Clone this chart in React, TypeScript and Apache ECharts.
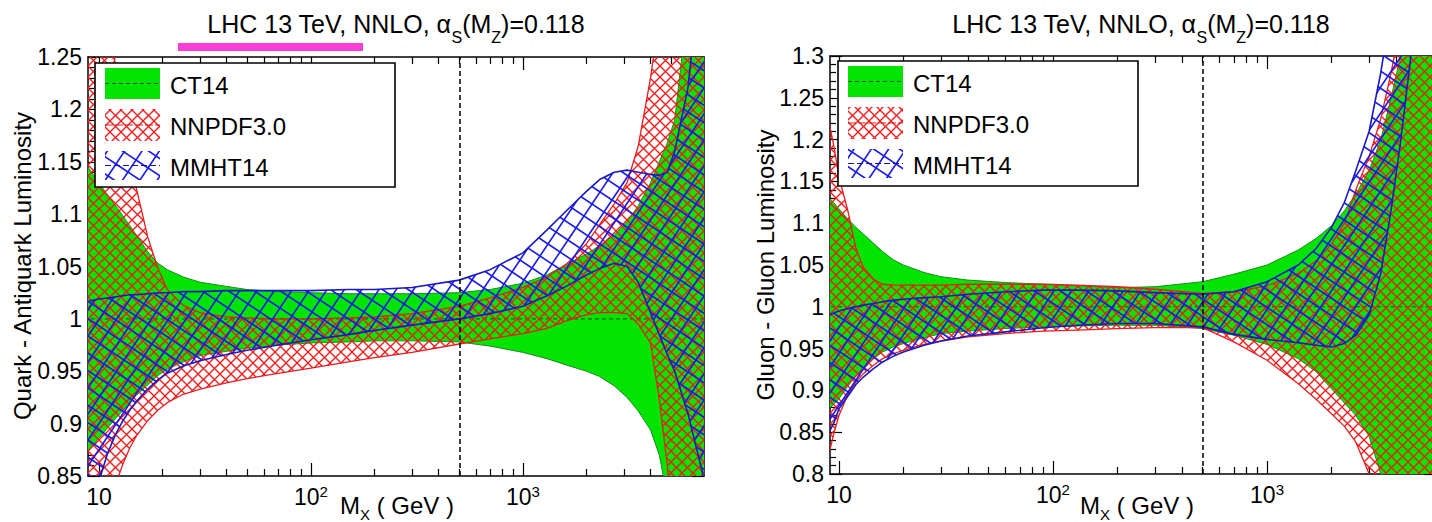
import React, { useEffect, useRef } from 'react';
import * as echarts from 'echarts';

// ---------------- data (luminosity ratio) ----------------
// Left panel: quark - antiquark luminosity
const qqMass = [8.5, 9, 10, 11, 12, 13, 14, 15, 17, 19, 21, 25, 30, 40, 50, 70, 100, 150, 200, 300, 500, 700, 1000, 1300, 1600, 2000, 2300, 2700, 3100, 3500, 4000, 4400, 4800, 5200, 6000, 7500];
const qqCT14Up = [1.150, 1.143, 1.130, 1.118, 1.108, 1.098, 1.089, 1.080, 1.064, 1.053, 1.047, 1.040, 1.035, 1.031, 1.028, 1.026, 1.025, 1.024, 1.024, 1.024, 1.025, 1.028, 1.034, 1.042, 1.052, 1.062, 1.070, 1.080, 1.093, 1.108, 1.130, 1.150, 1.168, 1.190, 1.300, 1.500];
const qqCT14Lo = [0.865, 0.875, 0.886, 0.896, 0.905, 0.913, 0.920, 0.927, 0.937, 0.946, 0.952, 0.959, 0.965, 0.969, 0.972, 0.975, 0.977, 0.978, 0.979, 0.979, 0.978, 0.974, 0.968, 0.962, 0.956, 0.950, 0.945, 0.936, 0.925, 0.912, 0.894, 0.870, 0.830, 0.760, 0.600, 0.400];
const qqNNPDFUp = [1.50, 1.45, 1.37, 1.30, 1.24, 1.19, 1.155, 1.125, 1.078, 1.048, 1.028, 1.013, 1.006, 1.002, 1.001, 1.000, 1.000, 1.001, 1.002, 1.005, 1.012, 1.020, 1.030, 1.040, 1.052, 1.072, 1.090, 1.110, 1.130, 1.165, 1.230, 1.290, 1.350, 1.420, 1.550, 1.800];
const qqNNPDFLo = [0.74, 0.76, 0.79, 0.815, 0.842, 0.862, 0.877, 0.888, 0.903, 0.913, 0.920, 0.928, 0.933, 0.939, 0.943, 0.948, 0.953, 0.959, 0.963, 0.968, 0.976, 0.981, 0.986, 0.991, 0.998, 1.004, 1.006, 1.006, 1.005, 0.995, 0.977, 0.923, 0.860, 0.780, 0.650, 0.450];
const qqMMHTUp = [1.016, 1.017, 1.019, 1.020, 1.021, 1.022, 1.023, 1.023, 1.024, 1.025, 1.025, 1.026, 1.026, 1.027, 1.027, 1.027, 1.027, 1.028, 1.028, 1.030, 1.037, 1.047, 1.063, 1.085, 1.103, 1.122, 1.133, 1.140, 1.142, 1.140, 1.138, 1.137, 1.140, 1.160, 1.220, 1.400];
const qqMMHTLo = [0.800, 0.815, 0.845, 0.872, 0.890, 0.903, 0.913, 0.921, 0.933, 0.942, 0.948, 0.955, 0.960, 0.966, 0.970, 0.975, 0.980, 0.985, 0.989, 0.994, 1.000, 1.005, 1.012, 1.022, 1.031, 1.042, 1.048, 1.053, 1.050, 1.035, 1.006, 0.985, 0.966, 0.950, 0.910, 0.830];

// Right panel: gluon - gluon luminosity
const ggMass = [8.5, 9, 9.5, 10, 11, 12, 13, 14.5, 16, 18, 20, 25, 30, 40, 60, 90, 130, 200, 300, 500, 700, 1000, 1400, 1700, 2000, 2300, 2600, 3000, 3400, 3800, 4200, 4700, 5500, 7000];
const ggCT14Up = [1.140, 1.130, 1.124, 1.117, 1.105, 1.095, 1.087, 1.076, 1.066, 1.056, 1.050, 1.041, 1.036, 1.032, 1.029, 1.027, 1.025, 1.023, 1.024, 1.030, 1.039, 1.050, 1.068, 1.082, 1.097, 1.115, 1.135, 1.163, 1.200, 1.250, 1.300, 1.380, 1.500, 1.700];
const ggCT14Lo = [0.870, 0.878, 0.884, 0.890, 0.905, 0.918, 0.928, 0.938, 0.946, 0.952, 0.956, 0.963, 0.968, 0.971, 0.974, 0.976, 0.977, 0.978, 0.978, 0.974, 0.966, 0.955, 0.938, 0.922, 0.902, 0.885, 0.870, 0.845, 0.800, 0.730, 0.650, 0.550, 0.400, 0.200];
const ggNNPDFUp = [1.260, 1.220, 1.190, 1.155, 1.115, 1.070, 1.047, 1.033, 1.027, 1.026, 1.026, 1.026, 1.026, 1.027, 1.027, 1.027, 1.026, 1.024, 1.021, 1.016, 1.018, 1.025, 1.040, 1.055, 1.075, 1.100, 1.140, 1.180, 1.225, 1.280, 1.340, 1.420, 1.550, 1.750];
const ggNNPDFLo = [0.800, 0.825, 0.850, 0.870, 0.895, 0.910, 0.920, 0.930, 0.938, 0.944, 0.948, 0.955, 0.959, 0.964, 0.968, 0.971, 0.972, 0.974, 0.975, 0.975, 0.958, 0.936, 0.908, 0.889, 0.872, 0.857, 0.838, 0.800, 0.740, 0.680, 0.600, 0.500, 0.350, 0.100];
const ggMMHTUp = [0.985, 0.990, 0.993, 0.995, 0.998, 1.000, 1.002, 1.004, 1.006, 1.008, 1.009, 1.011, 1.012, 1.015, 1.018, 1.020, 1.020, 1.019, 1.017, 1.015, 1.018, 1.030, 1.050, 1.070, 1.095, 1.125, 1.163, 1.210, 1.280, 1.360, 1.450, 1.550, 1.700, 1.900];
const ggMMHTLo = [0.830, 0.850, 0.862, 0.878, 0.893, 0.907, 0.916, 0.926, 0.934, 0.941, 0.946, 0.954, 0.959, 0.965, 0.970, 0.975, 0.978, 0.980, 0.980, 0.976, 0.967, 0.961, 0.957, 0.954, 0.952, 0.956, 0.966, 0.990, 1.040, 1.116, 1.196, 1.300, 1.450, 1.700];

// CT14 central (normalisation) and the vertical marker
const ct14CentralMass = [8.5, 7500];
const ct14Central = [1.0, 1.0];
const markerMass = 500;

// axis ticks / labels
const xMajorTickMass = [10, 100, 1000];
const xMinorTickMass = [20, 30, 40, 50, 60, 70, 80, 90, 200, 300, 400, 500, 600, 700, 800, 900, 2000, 3000, 4000, 5000, 6000, 7000];
const seriesNames = ['CT14', 'NNPDF3.0', 'MMHT14'];
const yAxisNames = ['Quark - Antiquark Luminosity', 'Gluon - Gluon Luminosity'];

// ---------------- layout / style ----------------
const FONT = "'Liberation Sans', Arial, Helvetica, sans-serif";
const GREEN = '#00e400';
const PANELS = [
  { left: 88, top: 57, width: 616, height: 419, xMin: 8.88, xMax: 7150, yMin: 0.85, yMax: 1.25, title: 396, legX: 95, legY: 63, legH: 124, nameX: 22.7, nameY: 266, mxX: 340 },
  { left: 830, top: 56, width: 606, height: 418, xMin: 9.08, xMax: 6158, yMin: 0.8, yMax: 1.3, title: 1141, legX: 838, legY: 61, legH: 125, nameX: 765.7, nameY: 265, mxX: 1080 },
];

let measureCtx: any = null;
function textWidth(text: string, size: number): number {
  if (!measureCtx) measureCtx = document.createElement('canvas').getContext('2d');
  measureCtx.font = `${size}px 'Liberation Sans', Arial, sans-serif`;
  return measureCtx.measureText(text).width;
}

type Tok = { t: string; size: number; dy?: number };
function tokenLine(tokens: Tok[], x: number, yMid: number, align: 'left' | 'center') {
  const widths = tokens.map((tk) => textWidth(tk.t, tk.size));
  const total = widths.reduce((a, b) => a + b, 0);
  let cx = align === 'center' ? x - total / 2 : x;
  return tokens.map((tk, i) => {
    const el = {
      type: 'text', x: cx, y: yMid + (tk.dy || 0), z: 100, silent: true,
      style: { text: tk.t, fontSize: tk.size, fontFamily: FONT, fill: '#000', align: 'left', verticalAlign: 'middle' },
    };
    cx += widths[i];
    return el;
  });
}

function redHatch() {
  const s = 11;
  const c = document.createElement('canvas');
  c.width = s; c.height = s;
  const g = c.getContext('2d')!;
  g.strokeStyle = 'rgb(245,25,25)';
  g.lineWidth = 1.3;
  for (let k = -1; k <= 1; k++) {
    g.beginPath(); g.moveTo(k * s - 2, -2); g.lineTo(k * s + s + 2, s + 2); g.stroke();
    g.beginPath(); g.moveTo(k * s - 2, s + 2); g.lineTo(k * s + s + 2, -2); g.stroke();
  }
  return { image: c, repeat: 'repeat', imageWidth: s, imageHeight: s };
}

function blueGrid() {
  const s = 52;
  const c = document.createElement('canvas');
  c.width = s; c.height = s;
  const g = c.getContext('2d')!;
  g.strokeStyle = 'rgb(24,24,235)';
  g.lineWidth = 1.6;
  for (let k = -2; k <= 7; k++) {
    const cv = k * s;
    g.beginPath(); g.moveTo(-10, (cv + 30) / 2); g.lineTo(s + 10, (cv - 3 * (s + 10)) / 2); g.stroke();
  }
  for (let k = -5; k <= 4; k++) {
    const cv = k * s;
    g.beginPath(); g.moveTo(-10, (-20 - cv) / 3); g.lineTo(s + 10, (2 * (s + 10) - cv) / 3); g.stroke();
  }
  return { image: c, repeat: 'repeat', imageWidth: s, imageHeight: s };
}

function band(xi: number, yi: number, mass: number[], up: number[], lo: number[], fill: any, stroke: string, lw: number, z: number, name: string) {
  return {
    type: 'custom', name, xAxisIndex: xi, yAxisIndex: yi, clip: true, silent: true, z,
    data: [[2, 1]],
    renderItem: (_p: any, api: any) => {
      const pts: number[][] = [];
      for (let i = 0; i < mass.length; i++) pts.push(api.coord([Math.log10(mass[i]), up[i]]));
      for (let i = mass.length - 1; i >= 0; i--) pts.push(api.coord([Math.log10(mass[i]), lo[i]]));
      return { type: 'polygon', shape: { points: pts }, style: { fill, stroke, lineWidth: lw, lineJoin: 'round' } };
    },
  };
}

function legendEls(x0: number, y0: number, h: number, red: any, blue: any) {
  const els: any[] = [];
  els.push({ type: 'rect', z: 100, silent: true, shape: { x: x0, y: y0, width: 300, height: h }, style: { fill: '#fff', stroke: '#000', lineWidth: 1.6 } });
  const rows = [
    { y: y0 + 5, h: 31, fill: GREEN, line: '#2c4a2c', dash: [4, 3] },
    { y: y0 + 46, h: 32, fill: red, line: 'rgb(220,30,30)', dash: [8, 2] },
    { y: y0 + 88, h: 29, fill: blue, line: 'rgb(20,20,160)', dash: [6, 3] },
  ];
  rows.forEach((r, i) => {
    els.push({ type: 'rect', z: 101, silent: true, shape: { x: x0 + 10, y: r.y, width: 55, height: r.h }, style: { fill: r.fill } });
    els.push({ type: 'line', z: 102, silent: true, shape: { x1: x0 + 10, y1: r.y + r.h / 2, x2: x0 + 65, y2: r.y + r.h / 2 }, style: { stroke: r.line, lineWidth: 1.2, lineDash: r.dash } });
    els.push({ type: 'text', z: 102, silent: true, x: x0 + 75, y: r.y + r.h / 2 + 1.5, style: { text: seriesNames[i], fontSize: 24, fontFamily: FONT, fill: '#000', align: 'left', verticalAlign: 'middle' } });
  });
  return els;
}

function buildOption() {
  const red = redHatch();
  const blue = blueGrid();
  const lineStyle = { color: '#000', width: 1.5 };
  const tickStyle = { color: '#000', width: 1.2 };
  const grids: any[] = [];
  const xAxes: any[] = [];
  const yAxes: any[] = [];
  const series: any[] = [];
  const graphic: any[] = [];
  const panelData = [
    { mass: qqMass, cu: qqCT14Up, cl: qqCT14Lo, nu: qqNNPDFUp, nl: qqNNPDFLo, mu: qqMMHTUp, ml: qqMMHTLo },
    { mass: ggMass, cu: ggCT14Up, cl: ggCT14Lo, nu: ggNNPDFUp, nl: ggNNPDFLo, mu: ggMMHTUp, ml: ggMMHTLo },
  ];

  PANELS.forEach((p, pi) => {
    grids.push({ left: p.left, top: p.top, width: p.width, height: p.height, show: false, outerBoundsMode: 'none' });
    const lmin = Math.log10(p.xMin);
    const lmax = Math.log10(p.xMax);
    const minorVals = xMinorTickMass.filter((m) => m > p.xMin && m < p.xMax).map((m) => Math.log10(m));
    const majorVals = xMajorTickMass.map((m) => Math.log10(m));
    const base = { type: 'value', gridIndex: pi, min: lmin, max: lmax, splitLine: { show: false } };
    xAxes.push({
      ...base, position: 'bottom',
      axisLine: { show: true, onZero: false, lineStyle },
      axisTick: { show: true, inside: true, length: 7, customValues: minorVals, lineStyle: tickStyle },
      axisLabel: {
        show: true, customValues: majorVals, margin: 8,
        formatter: (v: number) => {
          const e = Math.round(v);
          return e === 1 ? '{b|10}' : `{b|10}{s|${e}}`;
        },
        rich: {
          b: { fontSize: 23, fontFamily: FONT, color: '#000', lineHeight: 26 },
          s: { fontSize: 15, fontFamily: FONT, color: '#000', lineHeight: 15, padding: [0, 0, 11, 0] },
        },
      },
    });
    xAxes.push({
      ...base, position: 'bottom', axisLine: { show: false },
      axisTick: { show: true, inside: true, length: 13, customValues: majorVals, lineStyle: tickStyle },
      axisLabel: { show: false },
    });
    xAxes.push({
      ...base, position: 'top', axisLine: { show: true, onZero: false, lineStyle },
      axisTick: { show: true, inside: true, length: 7, customValues: minorVals, lineStyle: tickStyle },
      axisLabel: { show: false },
    });
    xAxes.push({
      ...base, position: 'top', axisLine: { show: false },
      axisTick: { show: true, inside: true, length: 13, customValues: majorVals, lineStyle: tickStyle },
      axisLabel: { show: false },
    });
    const ybase = { type: 'value', gridIndex: pi, min: p.yMin, max: p.yMax, interval: 0.05, splitLine: { show: false }, minorSplitLine: { show: false } };
    yAxes.push({
      ...ybase, position: 'left',
      axisLine: { show: true, onZero: false, lineStyle },
      axisTick: { show: true, inside: true, length: 12, lineStyle: tickStyle },
      minorTick: { show: true, splitNumber: 5, length: 6, lineStyle: tickStyle },
      axisLabel: { show: true, fontSize: 23, fontFamily: FONT, color: '#000', margin: 6 },
    });
    yAxes.push({
      ...ybase, position: 'right',
      axisLine: { show: true, onZero: false, lineStyle },
      axisTick: { show: true, inside: true, length: 12, lineStyle: tickStyle },
      minorTick: { show: true, splitNumber: 5, length: 6, lineStyle: tickStyle },
      axisLabel: { show: false },
    });

    const xi = pi * 4;
    const yi = pi * 2;
    const d = panelData[pi];
    series.push(band(xi, yi, d.mass, d.cu, d.cl, GREEN, '#1f8a1f', 1, 2, seriesNames[0]));
    series.push({
      type: 'line', xAxisIndex: xi, yAxisIndex: yi, z: 2, silent: true, showSymbol: false, symbol: 'none',
      data: ct14CentralMass.map((m, i) => [Math.log10(m), ct14Central[i]]),
      lineStyle: { color: '#3a3a3a', width: 1, type: [4, 3] },
    });
    series.push(band(xi, yi, d.mass, d.nu, d.nl, red, 'rgb(226,32,32)', 1.3, 3, seriesNames[1]));
    series.push(band(xi, yi, d.mass, d.mu, d.ml, blue, 'rgb(26,26,190)', 1.6, 4, seriesNames[2]));
    series.push({
      type: 'line', xAxisIndex: xi, yAxisIndex: yi, z: 5, silent: true, data: [],
      markLine: {
        silent: true, symbol: ['none', 'none'], label: { show: false }, animation: false,
        lineStyle: { color: '#000', type: [5, 3], width: 1.5 },
        data: [{ xAxis: Math.log10(markerMass) }],
      },
    });

    // title
    graphic.push(...tokenLine([
      { t: 'LHC 13 TeV, NNLO, α', size: 25 },
      { t: 'S', size: 16, dy: 14 },
      { t: '(M', size: 25 },
      { t: 'Z', size: 16, dy: 14 },
      { t: ')=0.118', size: 25 },
    ], p.title, 23.5, 'center'));
    // x axis name
    graphic.push(...tokenLine([
      { t: 'M', size: 24 },
      { t: 'X', size: 15, dy: 9 },
      { t: ' ( GeV )', size: 24 },
    ], p.mxX, 505.7, 'left'));
    // y axis name
    graphic.push({
      type: 'text', x: p.nameX, y: p.nameY, rotation: Math.PI / 2, z: 100, silent: true,
      style: { text: yAxisNames[pi], fontSize: 24, fontFamily: FONT, fill: '#000', align: 'center', verticalAlign: 'middle' },
    });
    graphic.push(...legendEls(p.legX, p.legY, p.legH, red, blue));
  });

  // highlight bar under the left title
  graphic.push({ type: 'rect', z: 100, silent: true, shape: { x: 178, y: 43, width: 185, height: 8 }, style: { fill: '#ff3ed6' } });

  return {
    animation: false,
    backgroundColor: '#fff',
    grid: grids,
    xAxis: xAxes,
    yAxis: yAxes,
    series,
    graphic,
  };
}

export default function App() {
  const ref = useRef<HTMLDivElement>(null);
  useEffect(() => {
    if (!ref.current) return;
    const chart = echarts.init(ref.current, null, { renderer: 'svg', width: 1432, height: 522 });
    chart.setOption(buildOption() as any);
    return () => chart.dispose();
  }, []);
  return <div ref={ref} style={{ position: 'fixed', left: 0, top: 0, width: 1432, height: 522, background: '#fff' }} />;
}
